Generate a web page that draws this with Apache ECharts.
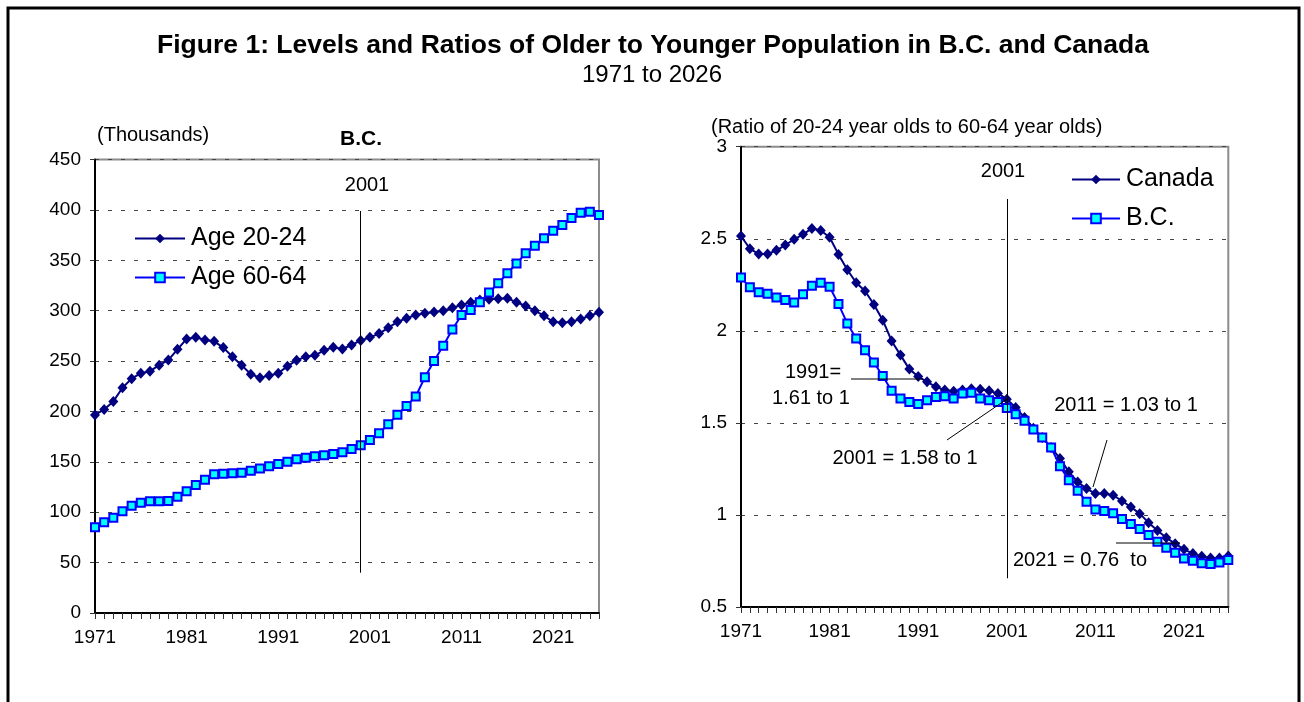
<!DOCTYPE html>
<html>
<head>
<meta charset="utf-8">
<script src="https://cdn.jsdelivr.net/npm/echarts@6/dist/echarts.min.js"></script>
<style>
html,body{margin:0;padding:0;background:#fff;}
#chart{width:1304px;height:702px;}
</style>
</head>
<body>
<div id="chart"></div>
<script>
var years = ['1971','1972','1973','1974','1975','1976','1977','1978','1979','1980',
'1981','1982','1983','1984','1985','1986','1987','1988','1989','1990',
'1991','1992','1993','1994','1995','1996','1997','1998','1999','2000',
'2001','2002','2003','2004','2005','2006','2007','2008','2009','2010',
'2011','2012','2013','2014','2015','2016','2017','2018','2019','2020',
'2021','2022','2023','2024','2025','2026'];

var age2024 = [196.5,202,210,223.6,232.6,238,240,246,251,261.7,
272,273.6,271,269.6,263.4,254.4,246,237,233.6,235.6,
238,245,250.8,254.4,255.8,260.7,263.7,262,266,270.5,
273.6,277.3,283,289,292.5,295.8,297.5,298.8,300,303,
305.7,308.4,310.7,311.4,312,312.3,308.4,304.7,300,295,
289,288,289,291.8,295,298.4];

var age6064 = [85,90,94.6,101,106.5,109.5,110.8,110.8,111.2,115.4,
120.8,127,132.3,137.6,138.3,138.6,139.3,141.3,143.3,145.6,
148,150.2,152.5,154.2,155.5,156.5,157.8,159.5,162.8,166.4,
171.7,178.3,187.3,196.8,205.5,215,234,250,265.3,281.3,
295.8,300.7,308.4,318,327.2,337.2,347,357,364.6,371.9,
379.5,385.1,392,397.3,398.3,395];

var canada = [2.515,2.446,2.417,2.417,2.437,2.466,2.497,2.524,2.556,2.545,
2.508,2.415,2.332,2.261,2.216,2.143,2.058,1.945,1.868,1.792,
1.752,1.723,1.696,1.678,1.672,1.678,1.685,1.682,1.674,1.660,
1.629,1.584,1.529,1.471,1.421,1.366,1.307,1.234,1.179,1.143,
1.116,1.116,1.107,1.076,1.043,1.007,0.958,0.916,0.876,0.844,
0.813,0.790,0.775,0.766,0.766,0.777];

var bc = [2.290,2.236,2.209,2.201,2.181,2.167,2.154,2.199,2.245,2.261,
2.239,2.145,2.040,1.958,1.895,1.828,1.755,1.674,1.633,1.614,
1.602,1.623,1.641,1.645,1.633,1.660,1.663,1.633,1.623,1.614,
1.581,1.547,1.511,1.464,1.421,1.366,1.265,1.189,1.131,1.072,
1.030,1.021,1.009,0.978,0.951,0.924,0.891,0.855,0.822,0.795,
0.764,0.751,0.737,0.733,0.742,0.755];

var leftTicks = {min:0, max:450, interval:50};
var rightTicks = {min:0.5, max:3, interval:0.5};

var FONT = 'Liberation Sans, Arial, sans-serif';
var chart = echarts.init(document.getElementById('chart'));

function xAxisCfg(gi){
  return {
    type:'category', gridIndex:gi, data:years, boundaryGap:false,
    axisLine:{show:true, lineStyle:{color:'#000', width:2}},
    axisTick:{show:true, interval:0, length:6, lineStyle:{color:'#333', width:1}},
    axisLabel:{interval:9, margin:15, color:'#000', fontSize:19, fontFamily:FONT},
    splitLine:{show:false}
  };
}
function yAxisCfg(gi, t, fmt){
  return {
    type:'value', gridIndex:gi, min:t.min, max:t.max, interval:t.interval,
    axisLine:{show:true, lineStyle:{color:'#000', width:2}},
    axisTick:{show:true, length:5, lineStyle:{color:'#333', width:1}},
    axisLabel:{margin:14, color:'#000', fontSize:19, fontFamily:FONT, formatter:fmt,
      showMaxLabel:true},
    splitLine:{show:true, lineStyle:{color:'#444', width:1, type:[4,9]}}
  };
}

function darkSeries(name, data, xi, yi){
  return {name:name, type:'line', xAxisIndex:xi, yAxisIndex:yi, data:data,
    symbol:'diamond', symbolSize:[10,11], showAllSymbol:true,
    lineStyle:{color:'#000080', width:2},
    itemStyle:{color:'#000080', borderColor:'#000080', borderWidth:0},
    emphasis:{disabled:true}, animation:false, z:3};
}
function blueSeries(name, data, xi, yi){
  return {name:name, type:'line', xAxisIndex:xi, yAxisIndex:yi, data:data,
    symbol:'rect', symbolSize:8, showAllSymbol:true,
    lineStyle:{color:'#0000FF', width:2},
    itemStyle:{color:'#00FFFF', borderColor:'#0000FF', borderWidth:2},
    emphasis:{disabled:true}, animation:false, z:4};
}

var s1 = darkSeries('Age 20-24', age2024, 0, 0);
var s2 = blueSeries('Age 60-64', age6064, 0, 0);
var s3 = darkSeries('Canada', canada, 1, 1);
var s4 = blueSeries('B.C.', bc, 1, 1);

s1.markLine = {silent:true, symbol:['none','none'], animation:false,
  lineStyle:{color:'#000', width:1, type:'solid'}, label:{show:false},
  data:[[{coord:['2000',40]},{coord:['2000',399]}]]};
s3.markLine = {silent:true, symbol:['none','none'], animation:false,
  lineStyle:{color:'#000', width:1, type:'solid'}, label:{show:false},
  data:[[{coord:['2001',0.656]},{coord:['2001',2.716]}]]};

function txt(x, y, text, size, opts){
  opts = opts || {};
  return {type:'text', x:x, y:y, z:50,
    style:{text:text, fill:'#000', font:(opts.bold?'bold ':'')+size+'px '+FONT,
      textAlign:opts.align||'left', textVerticalAlign:'middle'}};
}
function seg(x1,y1,x2,y2){
  return {type:'line', z:50, shape:{x1:x1,y1:y1,x2:x2,y2:y2}, style:{stroke:'#000', lineWidth:1}};
}

var option = {
  backgroundColor:'#fff',
  animation:false,
  grid:[
    {left:95, top:159.6, width:504, height:453.4, show:true, borderColor:'#8c8c8c', borderWidth:2, backgroundColor:'transparent'},
    {left:741, top:146.7, width:487.3, height:460.3, show:true, borderColor:'#8c8c8c', borderWidth:2, backgroundColor:'transparent'}
  ],
  xAxis:[xAxisCfg(0), xAxisCfg(1)],
  yAxis:[yAxisCfg(0, leftTicks), yAxisCfg(1, rightTicks, function(v){return String(+v.toFixed(1));})],
  legend:[
    {data:['Age 20-24','Age 60-64'], orient:'vertical', left:129, top:221,
     itemWidth:50, itemHeight:12, itemGap:14,
     textStyle:{fontSize:25, fontFamily:FONT, color:'#000', padding:[0,0,0,1]}, selectedMode:false},
    {data:['Canada','B.C.'], orient:'vertical', left:1066, top:162,
     itemWidth:48, itemHeight:12, itemGap:14,
     textStyle:{fontSize:25, fontFamily:FONT, color:'#000', padding:[0,0,0,1]}, selectedMode:false}
  ],
  series:[s1, s2, s3, s4],
  graphic:[
    {type:'rect', z:60, shape:{x:8, y:8, width:1291, height:720}, style:{fill:'none', stroke:'#000', lineWidth:3}},
    txt(653, 46, 'Figure 1: Levels and Ratios of Older to Younger Population in B.C. and Canada', 26.5, {bold:true, align:'center'}),
    txt(652, 75, '1971 to 2026', 24, {align:'center'}),
    txt(97, 135, '(Thousands)', 20),
    txt(361, 139, 'B.C.', 21, {bold:true, align:'center'}),
    txt(367, 185, '2001', 20, {align:'center'}),
    txt(711, 127, '(Ratio of 20-24 year olds to 60-64 year olds)', 20),
    txt(1003, 171, '2001', 20, {align:'center'}),
    txt(813, 372, '1991=', 20, {align:'center'}),
    txt(811, 398, '1.61 to 1', 20, {align:'center'}),
    seg(851, 379, 923, 379),
    txt(905, 458, '2001 = 1.58 to 1', 20, {align:'center'}),
    seg(947, 440, 1007, 399),
    txt(1126, 405, '2011 = 1.03 to 1', 20, {align:'center'}),
    seg(1107, 440, 1093, 487),
    txt(1080, 560, '2021 = 0.76  to', 20, {align:'center'}),
    seg(1116, 543, 1180, 543)
  ]
};
chart.setOption(option);
</script>
</body>
</html>
